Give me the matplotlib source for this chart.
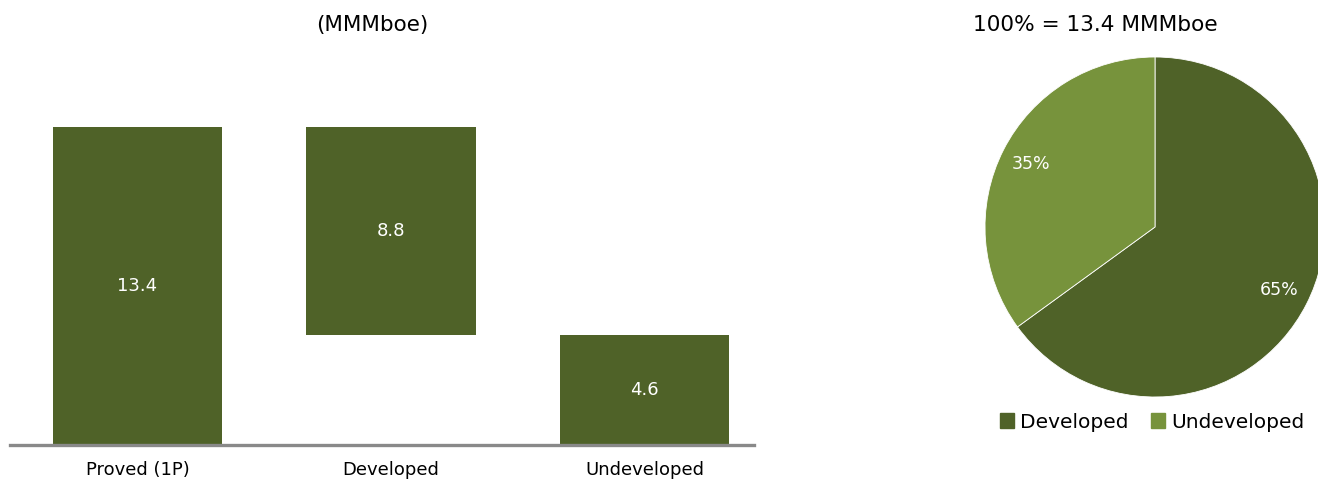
import numpy as np
import matplotlib
matplotlib.use("Agg")
import matplotlib.pyplot as plt
from matplotlib.patches import Patch

plt.rcParams['font.family'] = ['DejaVu Sans']

# data
categories = ['Proved (1P)', 'Developed', 'Undeveloped']
bar_values = [13.4, 8.8, 4.6]
bar_bottoms = [0, 4.6, 0]
pie_labels = ['Developed', 'Undeveloped']
pie_shares = [65, 35]
total = 13.4

dark = '#4F6228'
light = '#77933C'

W, H = 1318, 482
fig = plt.figure(figsize=(W / 100, H / 100), dpi=100)

def px_axes(left, top, right, bottom):
    return fig.add_axes([left / W, 1 - bottom / H, (right - left) / W, (bottom - top) / H])

# waterfall bars
ax = px_axes(10, 60, 754, 444.5)
x = np.arange(len(categories))
ax.bar(x, bar_values, bottom=bar_bottoms, width=0.667, color=dark)
for xi, v, b in zip(x, bar_values, bar_bottoms):
    ax.text(xi, b + v / 2, f'{v:.1f}', ha='center', va='center', color='white', fontsize=13)
ax.set_xlim(-0.503, 2.432)
ax.set_ylim(0, (444.5 - 60) / 23.73)
for s in ['top', 'left', 'right']:
    ax.spines[s].set_visible(False)
ax.spines['bottom'].set_color('#898989')
ax.spines['bottom'].set_linewidth(2.4)
ax.set_yticks([])
ax.set_xticks(x)
ax.set_xticklabels(categories, fontsize=13)
ax.tick_params(axis='x', length=0, pad=12)
fig.text(372 / W, 1 - 25 / H, '(MMMboe)', ha='center', va='center', fontsize=15.5)

# pie
pax = px_axes(985, 57, 1325, 397)
wedges, _, autotexts = pax.pie(pie_shares, colors=[dark, light], startangle=90, counterclock=False,
                               autopct='%d%%', pctdistance=0.82, radius=1,
                               wedgeprops=dict(edgecolor='white', linewidth=0.6))
for t in autotexts:
    t.set_color('white')
    t.set_fontsize(12.5)
pax.set_xlim(-1, 1)
pax.set_ylim(-1, 1)
pax.set_aspect('equal')
fig.text(1095 / W, 1 - 25 / H, f'100% = {total} MMMboe', ha='center', va='center', fontsize=15.6)

handles = [Patch(color=dark), Patch(color=light)]
fig.legend(handles, pie_labels, loc='center', bbox_to_anchor=(1152 / W, 1 - 422 / H), ncol=2,
           frameon=False, fontsize=14.5, handlelength=0.7, handleheight=0.7, handletextpad=0.3,
           columnspacing=1.1)

fig.savefig('out.png', dpi=100)
